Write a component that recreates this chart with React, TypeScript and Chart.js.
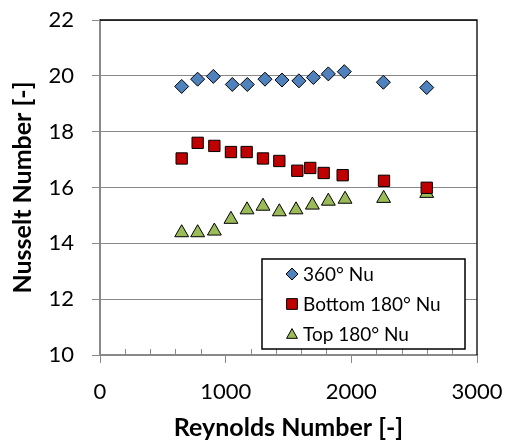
import React, { useEffect, useRef } from "react";
import { Chart, registerables } from "chart.js";

Chart.register(...registerables);

const seriesNames = ["360° Nu", "Bottom 180° Nu", "Top 180° Nu"];

const re360 = [650, 777, 902, 1053, 1172, 1313, 1448, 1583, 1698, 1817, 1944, 2255, 2600];
const nu360 = [19.62, 19.88, 19.98, 19.69, 19.69, 19.88, 19.85, 19.82, 19.94, 20.07, 20.15, 19.77, 19.58];

const reBottom = [650, 777, 910, 1042, 1167, 1297, 1427, 1570, 1673, 1780, 1931, 2260, 2600];
const nuBottom = [17.04, 17.6, 17.49, 17.27, 17.27, 17.04, 16.95, 16.6, 16.7, 16.52, 16.44, 16.24, 15.99];

const reTop = [650, 777, 910, 1042, 1170, 1297, 1427, 1560, 1690, 1817, 1950, 2257, 2600];
const nuTop = [14.38, 14.38, 14.44, 14.86, 15.2, 15.33, 15.13, 15.2, 15.37, 15.51, 15.58, 15.61, 15.79];

const xTitle = "Reynolds Number [-]";
const yTitle = "Nusselt Number [-]";

const FONT = "Lato, 'Open Sans', sans-serif";
const GRAY = "#898989";

function toPoints(xs: number[], ys: number[]) {
  return xs.map((x, i) => ({ x, y: ys[i] }));
}

function drawMarker(ctx: CanvasRenderingContext2D, style: string, x: number, y: number, r: number, fill: string) {
  ctx.beginPath();
  if (style === "rectRot") {
    ctx.moveTo(x, y - r);
    ctx.lineTo(x + r, y);
    ctx.lineTo(x, y + r);
    ctx.lineTo(x - r, y);
    ctx.closePath();
  } else if (style === "rect") {
    const s = r * Math.SQRT1_2;
    ctx.rect(x - s, y - s, 2 * s, 2 * s);
  } else {
    const h = r * 0.9;
    ctx.moveTo(x, y - h);
    ctx.lineTo(x + h * 1.0, y + h * 0.8);
    ctx.lineTo(x - h * 1.0, y + h * 0.8);
    ctx.closePath();
  }
  ctx.fillStyle = fill;
  ctx.fill();
  ctx.strokeStyle = "#000";
  ctx.lineWidth = 1;
  ctx.stroke();
}

const extrasPlugin = {
  id: "extras",
  beforeDatasetsDraw(chart: any) {
    const { ctx, chartArea, scales } = chart;
    const xs = scales.x;
    ctx.save();
    ctx.strokeStyle = GRAY;
    ctx.lineWidth = 1;
    for (let v = 200; v < 3000; v += 200) {
      if (v % 1000 === 0) continue;
      const px = Math.round(xs.getPixelForValue(v)) + 0.5;
      ctx.beginPath();
      ctx.moveTo(px, chartArea.bottom);
      ctx.lineTo(px, chartArea.bottom - 6);
      ctx.stroke();
    }
    ctx.restore();
  },
  afterDraw(chart: any) {
    const { ctx, chartArea } = chart;
    ctx.save();
    ctx.strokeStyle = "#000";
    ctx.lineWidth = 1.3;
    ctx.beginPath();
    ctx.moveTo(chartArea.left, chartArea.top);
    ctx.lineTo(chartArea.right, chartArea.top);
    ctx.lineTo(chartArea.right, chartArea.bottom);
    ctx.stroke();

    const bx = 262, by = 259, bw = 203, bh = 90;
    ctx.fillStyle = "#fff";
    ctx.fillRect(bx, by, bw, bh);
    ctx.strokeStyle = "#000";
    ctx.lineWidth = 1.5;
    ctx.strokeRect(bx, by, bw, bh);
    const rows = [274, 304, 334];
    chart.data.datasets.forEach((ds: any, i: number) => {
      drawMarker(ctx, ds.pointStyle, 292, rows[i], ds.pointStyle === "rect" ? 7.6 : 6, ds.backgroundColor);
      ctx.fillStyle = "#000";
      ctx.font = `19px ${FONT}`;
      ctx.textAlign = "left";
      ctx.textBaseline = "middle";
      ctx.fillText(ds.label, 303, rows[i] + 1);
    });
    ctx.restore();
  },
};

export default function App() {
  const ref = useRef<HTMLCanvasElement | null>(null);
  useEffect(() => {
    document.body.style.margin = "0";
    const canvas = ref.current;
    if (!canvas) return;
    const chart = new Chart(canvas, {
      type: "scatter",
      data: {
        datasets: [
          {
            label: seriesNames[0],
            data: toPoints(re360, nu360),
            pointStyle: "rectRot",
            pointRadius: 7,
            backgroundColor: "#4F81BD",
            borderColor: "#000",
            borderWidth: 1,
          },
          {
            label: seriesNames[1],
            data: toPoints(reBottom, nuBottom),
            pointStyle: "rect",
            pointRadius: 8,
            backgroundColor: "#C00000",
            borderColor: "#000",
            borderWidth: 1,
          },
          {
            label: seriesNames[2],
            data: toPoints(reTop, nuTop),
            pointStyle: "triangle",
            pointRadius: 8,
            backgroundColor: "#9BBB59",
            borderColor: "#000",
            borderWidth: 1,
          },
        ],
      },
      options: {
        responsive: false,
        animation: false,
        layout: { padding: { left: 0, right: 31, top: 20, bottom: 0 } },
        plugins: {
          legend: { display: false },
          tooltip: { enabled: false },
        },
        scales: {
          x: {
            type: "linear",
            min: 0,
            max: 3000,
            afterFit: (s: any) => {
              s.height = 86;
              s.paddingLeft = 0;
              s.paddingRight = 0;
            },
            ticks: {
              stepSize: 200,
              autoSkip: false,
              maxRotation: 0,
              padding: 16,
              color: "#000",
              font: { family: FONT, size: 22 },
              callback: (v: any) => (Number(v) % 1000 === 0 ? String(v) : ""),
            },
            grid: {
              drawOnChartArea: false,
              tickLength: 8,
              tickColor: (c: any) => (c.tick && c.tick.value % 1000 === 0 ? GRAY : "rgba(0,0,0,0)"),
              color: GRAY,
            },
            border: { color: GRAY, width: 2 },
            title: {
              display: true,
              text: xTitle,
              color: "#000",
              font: { family: FONT, size: 25, weight: "bold", lineHeight: 0.8 },
              padding: { top: 0, bottom: 3 },
            },
          },
          y: {
            type: "linear",
            min: 10,
            max: 22,
            afterFit: (s: any) => {
              s.width = 100;
              s.paddingTop = 0;
              s.paddingBottom = 0;
            },
            ticks: {
              stepSize: 2,
              padding: 18,
              color: "#000",
              font: { family: FONT, size: 22 },
            },
            grid: {
              color: GRAY,
              lineWidth: 1,
              tickLength: 8,
            },
            border: { color: GRAY, width: 2 },
            title: {
              display: true,
              text: yTitle,
              color: "#000",
              font: { family: FONT, size: 25, weight: "bold", lineHeight: 0.8 },
              padding: { top: 13, bottom: 0 },
            },
          },
        },
      },
      plugins: [extrasPlugin],
    } as any);
    return () => chart.destroy();
  }, []);
  return (
    <div style={{ width: 508, height: 441 }}>
      <canvas ref={ref} width={508} height={441} style={{ display: "block" }} />
    </div>
  );
}
